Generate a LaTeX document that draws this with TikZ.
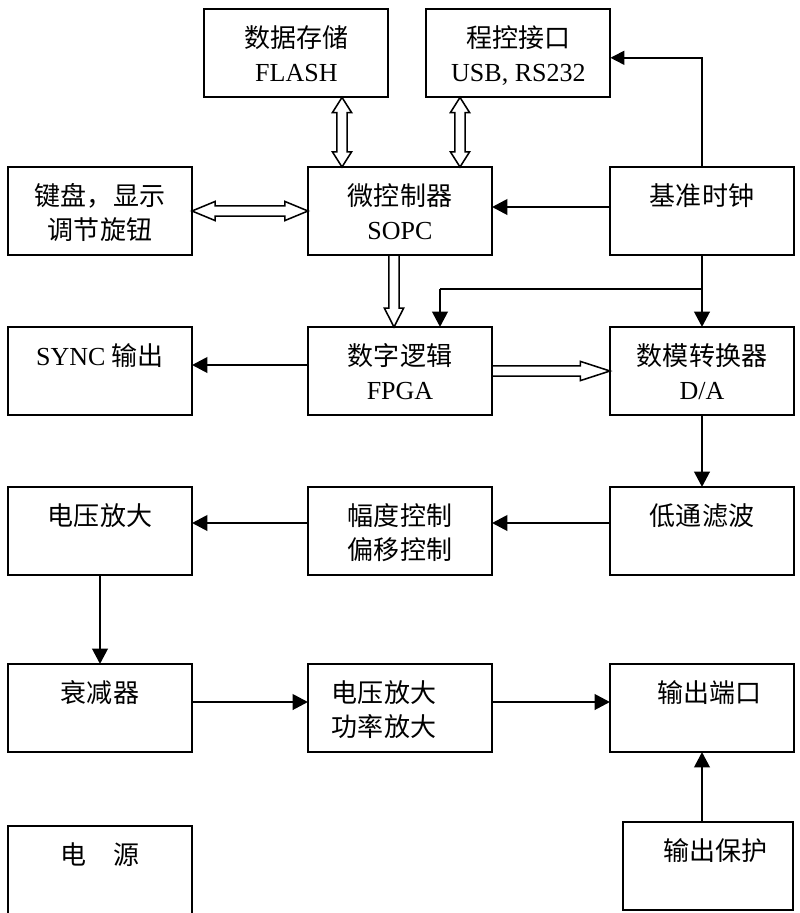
\documentclass[tikz,border=0pt]{standalone}
\usepackage{fontspec}
\setmainfont{Liberation Serif}
\newfontfamily\cjk{Noto Sans CJK SC}
\usepackage{tikz}
\usetikzlibrary{positioning}
\usetikzlibrary{calc,arrows.meta}
\tikzstyle{block}=[draw,line width=1.4pt,minimum width=4.6cm,minimum height=2.2cm,inner sep=0pt,outer sep=0pt,font=\fontsize{18.5}{24.5}\selectfont]
\tikzstyle{sig edge}=[-{Triangle[length=11pt,width=11pt]},line width=2pt]
\tikzstyle{clk edge}=[line width=1.2pt]
\tikzstyle{bus edge}=[line width=1.1pt,line join=miter]
\newcommand{\hwid}{0.13cm}
\newcommand{\hhead}{0.24cm}
\newcommand{\hlen}{0.4cm}
\tikzset{
  head len/.store in=\hlen,
  bus both/.style={bus edge,to path={
    ($(\tikztostart)!\hlen!(\tikztotarget)$) coordinate (h1)
    ($(\tikztotarget)!\hlen!(\tikztostart)$) coordinate (h2)
    (\tikztostart) -- ($(h1)!\hhead!90:(\tikztotarget)$)
    -- ($(h1)!\hwid!90:(\tikztotarget)$) -- ($(h2)!\hwid!-90:(\tikztostart)$)
    -- ($(h2)!\hhead!-90:(\tikztostart)$) -- (\tikztotarget)
    -- ($(h2)!\hhead!90:(\tikztostart)$) -- ($(h2)!\hwid!90:(\tikztostart)$)
    -- ($(h1)!\hwid!-90:(\tikztotarget)$) -- ($(h1)!\hhead!-90:(\tikztotarget)$)
    -- cycle}},
  bus arrow/.style={bus edge,to path={
    ($(\tikztotarget)!\hlen!(\tikztostart)$) coordinate (h2)
    ($(\tikztostart)!\hwid!90:(\tikztotarget)$) -- ($(h2)!\hwid!-90:(\tikztostart)$)
    -- ($(h2)!\hhead!-90:(\tikztostart)$) -- (\tikztotarget)
    -- ($(h2)!\hhead!90:(\tikztostart)$) -- ($(h2)!\hwid!90:(\tikztostart)$)
    -- ($(\tikztostart)!\hwid!-90:(\tikztotarget)$) -- cycle}}
}
\newcommand{\blocknode}[3][]{
  \node [block, #1] (#2) {\parbox[c][2.2cm][t]{4.2cm}{\centering\rule{0pt}{0.95cm}#3}}
}

\begin{document}
\begin{tikzpicture}[node distance=1.8cm and 2.9cm]
        \useasboundingbox (0,0) rectangle (20,-22.825);
        \blocknode[at={(10,-5.275)}]{sopc}{{\cjk 微控制器}\\SOPC};
        \blocknode[left=2.9cm of sopc]{keys}{{\cjk 键盘，显示\\调节旋钮}};
        \blocknode[right=2.95cm of sopc]{clock}{{\cjk 基准时钟}};
        \blocknode[above=1.74cm of sopc, xshift=-2.59cm]{flash}{{\cjk 数据存储}\\FLASH};
        \blocknode[above=1.74cm of sopc, xshift=2.96cm]{usb}{{\cjk 程控接口}\\USB, RS232};

        \blocknode[below=1.8cm of sopc]{fpga}{{\cjk 数字逻辑}\\FPGA};
        \blocknode[left=2.9cm of fpga]{sync}{SYNC {\cjk 输出}};
        \blocknode[right=2.95cm of fpga]{dac}{{\cjk 数模转换器}\\D/A};

        \blocknode[below=1.8cm of fpga]{amp}{{\cjk 幅度控制\\偏移控制}};
        \blocknode[below=1.8cm of sync]{vamp}{{\cjk 电压放大}};
        \blocknode[below=1.8cm of dac]{lpf}{{\cjk 低通滤波}};

        \blocknode[below=2.225cm of vamp]{att}{{\cjk 衰减器}};
        \blocknode[below=2.225cm of amp]{pamp}{{\cjk\hspace*{-0.8cm}电压放大\\\hspace*{-0.8cm}功率放大}};
        \blocknode[below=2.225cm of lpf]{port}{{\cjk\hspace*{0.38cm}输出端口}};

        \blocknode[below=1.85cm of att]{power}{{\cjk 电　源}};
        \blocknode[below=1.75cm of port, xshift=0.16cm, minimum width=4.25cm]{prot}{{\cjk\hspace*{0.35cm}输出保护}};

        % buses round the controller
        \coordinate (fl top) at ([xshift=1.14cm]flash.south);
        \coordinate (fl bot) at (fl top |- sopc.north);
        \coordinate (usb top) at ([xshift=-1.46cm]usb.south);
        \coordinate (usb bot) at (usb top |- sopc.north);
        \coordinate (ctl out) at ([xshift=-0.15cm]sopc.south);
        \coordinate (fpga in) at (ctl out |- fpga.north);
      \draw[bus both, head len=0.38cm] (fl top) to (fl bot);
      \draw[bus both, head len=0.38cm] (usb top) to (usb bot);
      \draw[bus both, head len=0.58cm] (keys.east) to (sopc.west);
      \draw[bus arrow, head len=0.47cm] (ctl out) to (fpga in);
      \draw[bus arrow, head len=0.74cm] (fpga.east) to (dac.west);

        % clock
        \coordinate (clk split) at ([yshift=-0.85cm]clock.south);
        \coordinate (fpga clk) at ([xshift=1cm]fpga.north);
      \draw[clk edge] (clock.south) -- (clk split) -- (clk split -| fpga clk);
      \draw[sig edge] (clk split) -- (dac.north);
      \draw[sig edge] (fpga clk |- clk split) -- (fpga clk);
      \draw[clk edge, -{Triangle[length=10pt,width=10pt]}] (clock.north) |- ([yshift=-0.11cm]usb.east);
      \draw[sig edge] ([yshift=1mm]clock.west) -- ([yshift=1mm]sopc.east);

        % signal path
      \draw[sig edge] ([yshift=1.5mm]fpga.west) -- ([yshift=1.5mm]sync.east);
      \draw[sig edge] (dac.south) -- (lpf.north);
      \draw[sig edge] ([yshift=2mm]lpf.west) -- ([yshift=2mm]amp.east);
      \draw[sig edge] ([yshift=2mm]amp.west) -- ([yshift=2mm]vamp.east);
      \draw[sig edge] (vamp.south) -- (att.north);
      \draw[sig edge] ([yshift=1.5mm]att.east) -- ([yshift=1.5mm]pamp.west);
      \draw[sig edge] ([yshift=1.5mm]pamp.east) -- ([yshift=1.5mm]port.west);
      \draw[sig edge] (port.south |- prot.north) -- (port.south);
\end{tikzpicture}
\end{document}
